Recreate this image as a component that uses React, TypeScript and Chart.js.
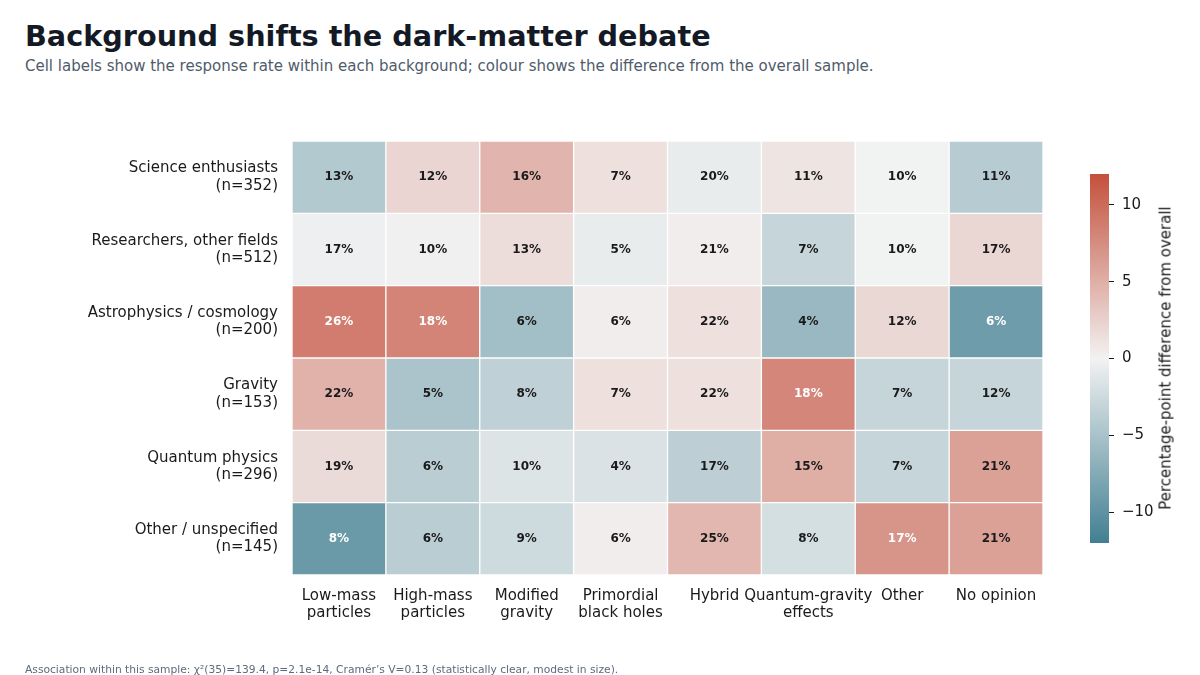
import React, { useEffect, useRef } from 'react';
import Chart from 'chart.js/auto';

const columns = [
  ['Low-mass', 'particles'],
  ['High-mass', 'particles'],
  ['Modified', 'gravity'],
  ['Primordial', 'black holes'],
  ['Hybrid'],
  ['Quantum-gravity', 'effects'],
  ['Other'],
  ['No opinion'],
];

const groups = [
  'Science enthusiasts',
  'Researchers, other fields',
  'Astrophysics / cosmology',
  'Gravity',
  'Quantum physics',
  'Other / unspecified',
];
const groupN = [352, 512, 200, 153, 296, 145];

// response rate (%) within each background, one row per group
const scienceRates = [13, 12, 16, 7, 20, 11, 10, 11];
const researcherRates = [17, 10, 13, 5, 21, 7, 10, 17];
const astroRates = [26, 18, 6, 6, 22, 4, 12, 6];
const gravityRates = [22, 5, 8, 7, 22, 18, 7, 12];
const quantumRates = [19, 6, 10, 4, 17, 15, 7, 21];
const otherRates = [8, 6, 9, 6, 25, 8, 17, 21];
const rates = [scienceRates, researcherRates, astroRates, gravityRates, quantumRates, otherRates];

const colourTicks = [-10, -5, 0, 5, 10];
const V_MAX = 12;

const FONT = '"DejaVu Sans", sans-serif';

// overall sample rate per column (weighted by group size)
const totalN = groupN.reduce((a, b) => a + b, 0);
const overall = columns.map((_, j) =>
  rates.reduce((s, row, i) => s + row[j] * groupN[i], 0) / totalN
);

// diverging palette: blue -> light grey -> red
const stops: [number, number[]][] = [
  [0, [66, 127, 146]],
  [0.5, [242, 242, 242]],
  [1, [196, 80, 60]],
];
function cmap(t: number) {
  t = Math.max(0, Math.min(1, t));
  for (let k = 1; k < stops.length; k++) {
    const [t1, c1] = stops[k];
    const [t0, c0] = stops[k - 1];
    if (t <= t1) {
      const f = (t - t0) / (t1 - t0 || 1);
      const c = c0.map((v, m) => Math.round(v + (c1[m] - v) * f));
      return `rgb(${c[0]},${c[1]},${c[2]})`;
    }
  }
  return 'rgb(196,80,60)';
}
const diffColour = (d: number) => cmap(0.5 + d / (2 * V_MAX));

const cellLabels = {
  id: 'cellLabels',
  afterDatasetsDraw(chart: any) {
    const { ctx } = chart;
    ctx.save();
    ctx.font = `bold 12px ${FONT}`;
    ctx.textAlign = 'center';
    ctx.textBaseline = 'middle';
    chart.data.datasets.forEach((ds: any, i: number) => {
      chart.getDatasetMeta(i).data.forEach((el: any, j: number) => {
        const p = el.getCenterPoint();
        const d = rates[i][j] - overall[j];
        ctx.fillStyle = Math.abs(d) > 6.5 ? '#ffffff' : '#1a1a1a';
        ctx.fillText(`${rates[i][j]}%`, p.x, p.y);
      });
    });
    ctx.restore();
  },
};

const Heatmap: React.FC = () => {
  const ref = useRef<HTMLCanvasElement>(null);
  useEffect(() => {
    if (!ref.current) return;
    const chart = new Chart(ref.current, {
      type: 'bar',
      data: {
        labels: columns,
        datasets: groups.map((g, i) => ({
          label: g,
          data: columns.map(() => 1),
          backgroundColor: rates[i].map((r, j) => diffColour(r - overall[j])),
          borderColor: '#ffffff',
          borderWidth: 1,
          borderSkipped: false,
          categoryPercentage: 1,
          barPercentage: 1,
        })),
      },
      options: {
        animation: false,
        responsive: true,
        maintainAspectRatio: false,
        layout: { padding: { left: 0, top: 141, right: 157, bottom: 40 } },
        plugins: { legend: { display: false }, tooltip: { enabled: false } },
        scales: {
          x: {
            stacked: true,
            grid: { display: false, drawTicks: false },
            border: { display: false },
            afterFit: (s: any) => { s.height = 60; },
            ticks: {
              autoSkip: false,
              maxRotation: 0,
              minRotation: 0,
              padding: 12,
              color: '#1a1a1a',
              font: { family: FONT, size: 15, lineHeight: 1.15 },
            },
          },
          y: {
            stacked: true,
            reverse: true,
            min: 0,
            max: groups.length,
            grid: { display: false, drawTicks: false },
            border: { display: false },
            afterFit: (s: any) => { s.width = 292; },
            afterBuildTicks: (s: any) => {
              s.ticks = groups.map((_, i) => ({ value: i + 0.5 }));
            },
            ticks: {
              padding: 14,
              color: '#1a1a1a',
              font: { family: FONT, size: 15, lineHeight: 1.15 },
              callback: (v: any) => {
                const i = Math.floor(Number(v));
                return [groups[i], `(n=${groupN[i]})`];
              },
            },
          },
        },
      },
      plugins: [cellLabels],
    });
    return () => chart.destroy();
  }, []);
  return (
    <div style={{ position: 'absolute', left: 0, top: 0, width: 1200, height: 675 }}>
      <canvas ref={ref} />
    </div>
  );
};

const ColourBar: React.FC = () => {
  const ref = useRef<HTMLCanvasElement>(null);
  useEffect(() => {
    if (!ref.current) return;
    const chart = new Chart(ref.current, {
      type: 'bar',
      data: {
        labels: ['diff'],
        datasets: [{
          data: [[-V_MAX, V_MAX]] as any,
          categoryPercentage: 1,
          barPercentage: 1,
          borderWidth: 0,
          backgroundColor: (c: any) => {
            const ch = c.chart;
            if (!ch.chartArea) return '#eee';
            const y = ch.scales.y;
            const g = ch.ctx.createLinearGradient(0, y.getPixelForValue(-V_MAX), 0, y.getPixelForValue(V_MAX));
            for (let k = 0; k <= 48; k++) {
              const t = k / 48;
              g.addColorStop(t, cmap(t));
            }
            return g;
          },
        }],
      },
      options: {
        animation: false,
        responsive: true,
        maintainAspectRatio: false,
        layout: { padding: { left: 0, top: 10, right: 0, bottom: 10 } },
        plugins: { legend: { display: false }, tooltip: { enabled: false } },
        scales: {
          x: { display: false },
          y: {
            position: 'right',
            min: -V_MAX,
            max: V_MAX,
            afterFit: (s: any) => { s.width = 51; },
            afterBuildTicks: (s: any) => {
              s.ticks = colourTicks.map((v) => ({ value: v }));
            },
            grid: {
              drawOnChartArea: false,
              drawTicks: true,
              tickLength: 5,
              tickColor: '#1a1a1a',
            },
            border: { display: false },
            ticks: {
              padding: 8,
              color: '#1a1a1a',
              font: { family: FONT, size: 15 },
              callback: (v: any) => (Number(v) < 0 ? `\u2212${Math.abs(Number(v))}` : `${v}`),
            },
          },
        },
      },
    });
    return () => chart.destroy();
  }, []);
  return (
    <div style={{ position: 'absolute', left: 1090, top: 157, width: 70, height: 403 }}>
      <canvas ref={ref} />
    </div>
  );
};

const App: React.FC = () => (
  <div
    style={{
      position: 'fixed',
      left: 0,
      top: 0,
      width: 1200,
      height: 675,
      background: '#ffffff',
      overflow: 'hidden',
      fontFamily: FONT,
    }}
  >
    <div
      style={{
        position: 'absolute', left: 25, top: 22, fontSize: 28.7, lineHeight: '29px',
        fontWeight: 'bold', color: '#131a26', whiteSpace: 'nowrap',
      }}
    >
      Background shifts the dark-matter debate
    </div>
    <div
      style={{
        position: 'absolute', left: 25, top: 59, fontSize: 15, lineHeight: '15px',
        color: '#4f5b6b', whiteSpace: 'nowrap',
      }}
    >
      Cell labels show the response rate within each background; colour shows the difference from the overall sample.
    </div>
    <Heatmap />
    <ColourBar />
    <div
      style={{
        position: 'absolute', left: 1166, top: 358, width: 0, height: 0,
      }}
    >
      <div
        style={{
          position: 'absolute', left: 0, top: 0, fontSize: 15, lineHeight: '15px',
          color: '#1a1a1a', whiteSpace: 'nowrap',
          transform: 'translate(-50%, -50%) rotate(-90deg)',
        }}
      >
        Percentage-point difference from overall
      </div>
    </div>
    <div
      style={{
        position: 'absolute', left: 25, top: 664, fontSize: 10.7, lineHeight: '11px',
        color: '#5d6b7c', whiteSpace: 'nowrap',
      }}
    >
      Association within this sample: χ²(35)=139.4, p=2.1e-14, Cramér’s V=0.13 (statistically clear, modest in size).
    </div>
  </div>
);

export default App;
